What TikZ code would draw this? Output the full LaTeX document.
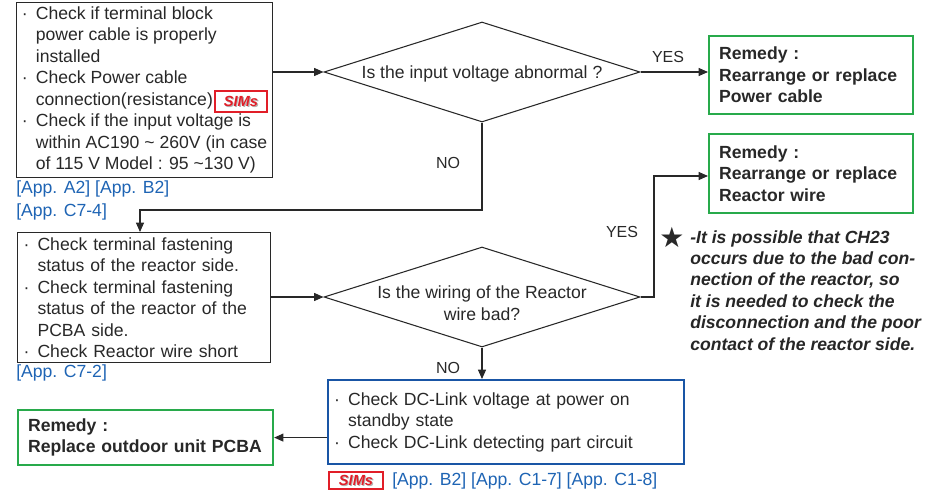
\documentclass[tikz,border=0pt]{standalone}
\usepackage{fontspec}
\setmainfont{Liberation Sans}
\newfontfamily\starfont{DejaVu Sans}
\usetikzlibrary{shapes.geometric,arrows.meta,calc}
\definecolor{txt}{RGB}{40,40,40}
\definecolor{refblue}{RGB}{30,100,180}
\definecolor{remgreen}{RGB}{40,170,75}
\definecolor{boxblue}{RGB}{25,85,165}
\definecolor{simsred}{RGB}{225,30,40}
\newcommand{\bul}{\makebox[10.5pt][l]{·}}
\newcommand{\ind}{\hspace*{10.5pt}}
\newcommand{\simstext}{\rlap{\color{gray!60}\kern0.8pt\raisebox{-0.8pt}{SIMs}}SIMs}
\begin{document}
\begin{tikzpicture}[x=0.75pt,y=-0.75pt,
  every node/.style={font=\fontsize{13.2}{16.1}\selectfont, text=txt, inner sep=0pt},
  checkbox/.style={draw=txt, line width=0.8pt, align=left, inner xsep=4.5pt, anchor=north west},
  remedybox/.style={draw=remgreen, line width=1.6pt, align=left, font=\fontsize{13.2}{16.1}\selectfont\bfseries, inner xsep=7.5pt, anchor=north west},
  decision/.style={diamond, draw=txt, line width=0.8pt, minimum width=237pt, minimum height=75pt, inner sep=0pt},
  flow/.style={draw=txt, line width=0.8pt, -{Triangle[length=7pt,width=6pt]}},
  lbl/.style={font=\fontsize{12}{14}\selectfont},
  ref/.style={text=refblue, anchor=west},
  sims/.style={draw=simsred, line width=0.8pt, fill=white, text=simsred, font=\fontsize{11}{12}\selectfont\bfseries\itshape}
]
\useasboundingbox (0,0) rectangle (944,492);

% check boxes
\node[checkbox, inner xsep=0pt, minimum width=192pt, minimum height=131.25pt] (b1) at (16,2) {%
\bul Check if terminal block\\
\ind power cable is properly\\
\ind installed\\
\bul Check Power cable\\
\ind connection(resistance)\\
\bul Check if the input voltage is\\
\ind within AC190 \textasciitilde{} 260V (in case\\
\ind of 115 V Model : 95 \textasciitilde130 V)};

\node[checkbox, minimum width=189.75pt, minimum height=97.5pt, text width=180.75pt] (b2) at (17,232) {%
\bul Check terminal fastening\\
\ind status of the reactor side.\\
\bul Check terminal fastening\\
\ind status of the reactor of the\\
\ind PCBA side.\\
\bul Check Reactor wire short};

\node[checkbox, draw=boxblue, line width=1.6pt, minimum width=267pt, minimum height=63pt, text width=258pt] (b3) at (327,379) {%
\bul Check DC-Link voltage at power on\\
\ind standby state\\
\bul Check DC-Link detecting part circuit};

% remedy boxes
\node[remedybox, minimum width=153pt, minimum height=58.5pt, text width=138pt] (r1) at (708,35) {Remedy :\\Rearrange or replace\\Power cable};
\node[remedybox, minimum width=153pt, minimum height=59.25pt, text width=138pt] (r2) at (708,133) {Remedy :\\Rearrange or replace\\Reactor wire};
\node[remedybox, minimum width=191.25pt, minimum height=41.25pt, text width=176.25pt] (r3) at (17,409) {Remedy :\\Replace outdoor unit PCBA};

% decisions
\node[decision] (d1) at (482,72) {};
\node (q1) at (482,74) {Is the input voltage abnormal ?};
\node[decision] (d2) at (482,297) {};
\node[align=center] (q2) at (482,303) {Is the wiring of the Reactor\\wire bad?};

% connectors
\draw[flow] (d1.west -| b1.east) -- (d1.west);
\draw[flow] (d1.east) -- (d1.east -| r1.west);
\coordinate (t1) at (140,210);
\draw[flow] (d1.south) |- (t1) -- (t1 |- b2.north);
\draw[flow] (d2.west -| b2.east) -- (d2.west);
\coordinate (t2) at (654,176);
\draw[flow] (d2.east) -| (t2) -- (t2 -| r2.west);
\draw[flow] (d2.south) -- (d2.south |- b3.north);
\draw[flow] (r3.east -| b3.west) -- (r3.east);

% labels
\node[lbl] (yes1) at (668,57) {YES};
\node[lbl] (no1) at (448,163) {NO};
\node[lbl] (yes2) at (622,232) {YES};
\node[lbl] (no2) at (448,368) {NO};

% references
\node[ref] (ref1) at (16,189) {[App. A2] [App. B2]};
\node[ref] (ref2) at (16,212) {[App. C7-4]};
\node[ref] (ref3) at (16,373) {[App. C7-2]};
\node[ref] (ref4) at (392,481) {[App. B2] [App. C1-7] [App. C1-8]};

% SIMs badges
\node[sims, minimum width=39pt, minimum height=15.75pt] (s1) at (241,101.5) {\simstext};
\node[sims, minimum width=40.5pt, minimum height=12.75pt] (s2) at (356,480.5) {\simstext};

% note
\node (star) at (672,237) {\starfont\fontsize{21}{21}\selectfont ★};
\node[anchor=north west, align=left, font=\fontsize{13.2}{16.1}\selectfont\bfseries\itshape, text=black!85] (note) at (690,230) {%
-It is possible that CH23\\
occurs due to the bad con-\\
nection of the reactor, so\\
it is needed to check the\\
disconnection and the poor\\
contact of the reactor side.};
\end{tikzpicture}
\end{document}
